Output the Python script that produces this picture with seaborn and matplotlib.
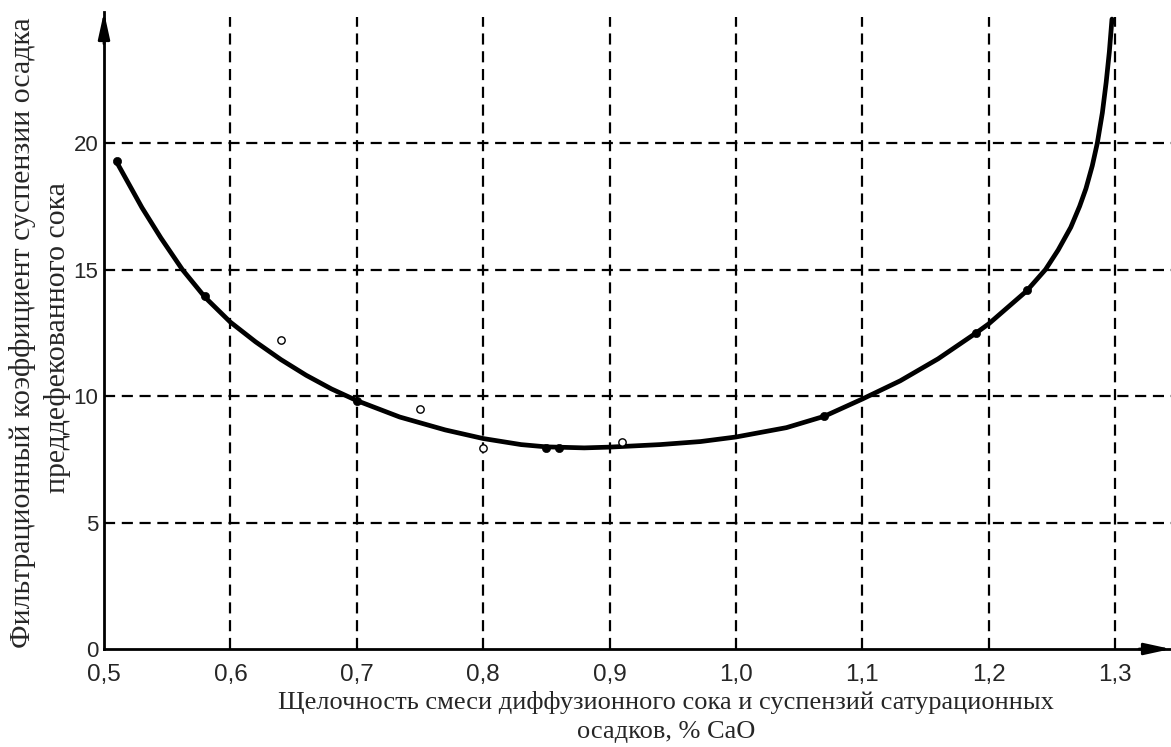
import numpy as np
import seaborn as sns
import matplotlib.pyplot as plt

# curve
curve_x = [0.51, 0.53, 0.545, 0.562, 0.58, 0.60, 0.62, 0.64, 0.66, 0.68, 0.70, 0.734,
           0.77, 0.80, 0.83, 0.85, 0.88, 0.90, 0.94, 0.972, 1.00, 1.04, 1.07, 1.10,
           1.13, 1.16, 1.19, 1.20, 1.23, 1.245, 1.255, 1.265, 1.272, 1.277, 1.282,
           1.286, 1.290, 1.293, 1.2955, 1.2976]
curve_y = [19.25, 17.45, 16.25, 15.0, 13.9, 12.92, 12.14, 11.44, 10.82, 10.28, 9.82, 9.17,
           8.66, 8.32, 8.08, 7.99, 7.95, 7.98, 8.08, 8.2, 8.38, 8.75, 9.2, 9.88,
           10.6, 11.47, 12.49, 12.85, 14.15, 15.0, 15.77, 16.67, 17.5, 18.2, 19.1,
           20.0, 21.2, 22.4, 23.6, 24.9]

# measured points
filled_x = [0.51, 0.58, 0.70, 0.85, 0.86, 1.07, 1.19, 1.23]
filled_y = [19.3, 13.95, 9.8, 7.95, 7.95, 9.2, 12.5, 14.2]
open_x = [0.64, 0.75, 0.80, 0.91]
open_y = [12.2, 9.5, 7.95, 8.2]

x_ticks = [0.5, 0.6, 0.7, 0.8, 0.9, 1.0, 1.1, 1.2, 1.3]
x_tick_labels = ['0,5', '0,6', '0,7', '0,8', '0,9', '1,0', '1,1', '1,2', '1,3']
y_ticks = [0, 5, 10, 15, 20]

sns.set_style("white")
plt.rcParams['font.family'] = ['Liberation Sans', 'DejaVu Sans']

W, H = 1171, 747
fig = plt.figure(figsize=(W / 100, H / 100), dpi=100)
ax = fig.add_axes([104 / W, (H - 649) / H, (W - 104) / W, (649 - 12) / H])

ax.set_xlim(0.5, 1.3443)
ax.set_ylim(0, 25.18)

# dashed grid
for xv in x_ticks[1:]:
    ax.plot([xv, xv], [0, 25.0], color='black', lw=1.6, ls=(0, (5, 3)), zorder=1)
for yv in y_ticks[1:]:
    ax.axhline(yv, color='black', lw=1.6, ls=(0, (5, 3)), zorder=1)

sns.lineplot(x=curve_x, y=curve_y, sort=False, estimator=None, color='black',
             lw=3.4, ax=ax, zorder=3)
sns.scatterplot(x=filled_x, y=filled_y, color='black', s=35, edgecolor='black',
                ax=ax, zorder=4)
sns.scatterplot(x=open_x, y=open_y, facecolor='white', edgecolor='black', s=28,
                linewidth=1.0, ax=ax, zorder=4)

for s in ['top', 'right']:
    ax.spines[s].set_visible(False)
for s in ['left', 'bottom']:
    ax.spines[s].set_linewidth(2)
    ax.spines[s].set_color('black')

# arrow heads
ax.annotate('', xy=(1.0, 0), xycoords='axes fraction', xytext=(0.97, 0),
            arrowprops=dict(arrowstyle='-|>,head_length=1.6,head_width=0.35',
                            color='black', lw=2, shrinkA=0, shrinkB=0))
ax.annotate('', xy=(0, 1.0), xycoords='axes fraction', xytext=(0, 0.95),
            arrowprops=dict(arrowstyle='-|>,head_length=1.6,head_width=0.35',
                            color='black', lw=2, shrinkA=0, shrinkB=0))

ax.set_xticks(x_ticks)
ax.set_xticklabels(x_tick_labels)
ax.set_yticks(y_ticks)
ax.tick_params(axis='x', direction='in', length=5, width=1.5, labelsize=17.5, pad=11)
ax.tick_params(axis='y', length=0, labelsize=16, pad=4)

serif = ['Liberation Serif', 'DejaVu Serif']
fig.text(666 / W, 1 - 709 / H, 'Щелочность смеси диффузионного сока и суспензий сатурационных',
         ha='center', va='baseline', fontsize=19, family=serif)
fig.text(666 / W, 1 - 738 / H, 'осадков, % CaO',
         ha='center', va='baseline', fontsize=19, family=serif)
fig.text(23 / W, 1 - 333 / H, 'Фильтрационный коэффициент суспензии осадка',
         ha='center', va='center', rotation=90, fontsize=21.5, family=serif)
fig.text(58 / W, 1 - 338 / H, 'преддефекованного сока',
         ha='center', va='center', rotation=90, fontsize=21.5, family=serif)

fig.savefig('out.png', dpi=100)
